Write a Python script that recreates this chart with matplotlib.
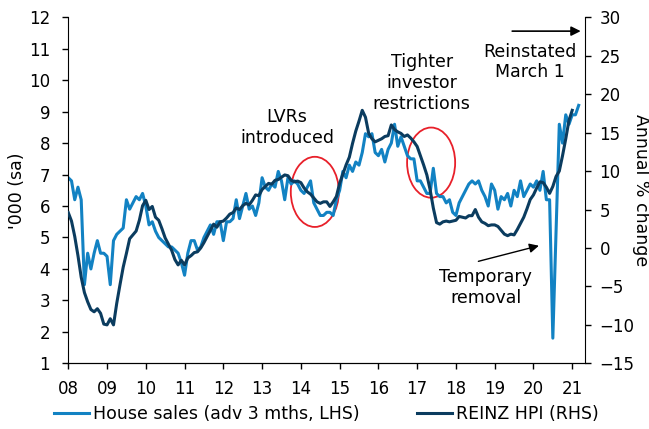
import numpy as np
import pandas as pd
import matplotlib
matplotlib.use("Agg")
import matplotlib.pyplot as plt
from matplotlib.patches import Ellipse

plt.rcParams['font.family'] = ['DejaVu Sans']
plt.rcParams['font.size'] = 12

# House sales, '000 sa, advanced 3 months (LHS), monthly from Jan 2008 to Mar 2021
sales = [
    6.9, 6.8, 6.2, 6.6, 6.2, 3.5, 4.5, 4.0, 4.5, 4.9, 4.5, 4.5,   # 2008
    4.4, 3.5, 4.9, 5.1, 5.2, 5.3, 6.2, 5.9, 6.1, 6.3, 6.2, 6.4,   # 2009
    6.0, 5.4, 5.5, 5.2, 5.0, 4.9, 4.8, 4.7, 4.7, 4.6, 4.5, 4.2,   # 2010
    3.8, 4.5, 4.9, 4.9, 4.6, 4.7, 5.0, 5.2, 5.4, 5.1, 5.5, 5.5,   # 2011
    4.9, 5.5, 5.5, 5.6, 6.2, 5.6, 6.0, 6.4, 5.9, 6.0, 5.7, 6.1,   # 2012
    6.9, 6.6, 6.5, 6.7, 6.6, 7.1, 6.8, 6.2, 6.9, 6.7, 6.8, 6.7,   # 2013
    6.5, 6.4, 6.6, 6.8, 6.1, 5.9, 5.7, 5.7, 5.8, 5.8, 5.7, 6.2,   # 2014
    6.5, 7.1, 6.9, 7.3, 7.1, 7.4, 7.3, 7.7, 8.3, 8.2, 8.3, 7.7,   # 2015
    7.6, 7.8, 7.4, 7.8, 8.0, 8.6, 7.9, 8.2, 7.9, 7.6, 7.5, 7.5,   # 2016
    6.8, 6.8, 6.6, 6.4, 6.4, 7.2, 6.4, 6.3, 6.3, 6.1, 6.2, 5.8,   # 2017
    5.7, 6.1, 6.3, 6.5, 6.7, 6.8, 6.7, 6.8, 6.5, 6.3, 6.0, 6.7,   # 2018
    6.5, 5.9, 6.3, 6.2, 6.4, 6.0, 6.5, 6.3, 6.8, 6.3, 6.5, 6.7,   # 2019
    6.6, 6.8, 6.5, 7.1, 6.2, 6.2, 1.8, 5.2, 8.6, 8.0, 8.9, 8.6,   # 2020
    8.9, 8.9, 9.2,                                                # 2021
]

# REINZ house price index, annual % change (RHS), monthly from Jan 2008 to Jan 2021
hpi = [
    4.6, 3.5, 1.5, -1.0, -3.8, -5.8, -7.0, -8.0, -8.3, -7.9, -8.5, -9.9,   # 2008
    -10.0, -9.2, -10.0, -7.2, -4.8, -2.5, -0.7, 1.2, 1.7, 2.2, 3.6, 5.5,  # 2009
    6.2, 5.0, 5.4, 4.0, 3.6, 2.5, 1.3, 0.5, -0.3, -1.5, -2.2, -1.6,       # 2010
    -2.2, -1.3, -1.0, -0.6, -0.5, 0.0, 0.7, 1.5, 2.3, 3.1, 2.7, 3.4,      # 2011
    3.5, 3.9, 4.4, 4.6, 5.2, 5.0, 5.5, 5.8, 5.6, 6.2, 6.9, 6.8,           # 2012
    7.6, 8.0, 8.4, 8.3, 8.8, 8.9, 9.2, 9.5, 9.4, 8.8, 8.6, 8.7,           # 2013
    8.5, 7.8, 7.3, 7.0, 6.5, 6.0, 5.8, 6.0, 6.0, 5.4, 6.0, 6.7,           # 2014
    8.4, 9.6, 10.8, 11.8, 13.6, 15.2, 16.5, 17.9, 17.0, 14.9, 14.2, 13.8, # 2015
    14.0, 14.2, 14.5, 14.6, 16.0, 15.4, 15.1, 14.9, 14.5, 14.7, 14.3, 13.8,  # 2016
    13.2, 12.0, 10.8, 9.5, 7.6, 5.2, 3.3, 3.1, 3.4, 3.5, 3.4, 3.5,        # 2017
    3.6, 4.1, 4.0, 3.9, 4.2, 4.2, 5.0, 4.0, 3.4, 3.2, 2.9, 3.0,           # 2018
    3.0, 2.8, 2.3, 1.8, 1.6, 1.8, 1.7, 2.4, 3.2, 4.0, 5.1, 6.3,           # 2019
    6.9, 7.8, 8.6, 8.5, 7.9, 7.1, 8.0, 9.3, 10.0, 12.0, 14.2, 16.6,       # 2020
    17.9,                                                                 # 2021
]

year_ticks = list(range(2008, 2022))
year_labels = [f"{y % 100:02d}" for y in year_ticks]

light = '#1282C3'
dark = '#0B3C5F'
red = '#E8202A'
txt_size = 12.5


def to_year(n):
    months = pd.date_range('2008-01-01', periods=n, freq='MS')
    return months.year + (months.month - 1) / 12


fig = plt.figure(figsize=(6.49, 4.29), dpi=100)
ax = fig.add_axes([0.1052, 0.1531, 0.9014 - 0.1052, 0.9597 - 0.1531])
ax2 = ax.twinx()

l1, = ax.plot(to_year(len(sales)), sales, color=light, lw=2.2,
              label='House sales (adv 3 mths, LHS)')
l2, = ax2.plot(to_year(len(hpi)), hpi, color=dark, lw=2.2,
               label='REINZ HPI (RHS)')

ax.set_xlim(2008, 2021.33)
ax.set_ylim(1, 12)
ax2.set_ylim(-15, 30)
ax.set_yticks(range(1, 13))
ax2.set_yticks(range(-15, 31, 5))
ax.set_xticks(year_ticks)
ax.set_xticklabels(year_labels)

for a in (ax, ax2):
    a.spines['top'].set_visible(False)
    a.tick_params(length=4.5, width=1, labelsize=12, colors='black')
ax.tick_params(axis='y', pad=8.5)
ax.tick_params(axis='x', pad=7.5)
ax2.tick_params(axis='y', pad=6)
ax.spines['right'].set_visible(False)
ax2.spines['left'].set_visible(False)

ax.set_ylabel("'000 (sa)", fontsize=txt_size)
ax.yaxis.set_label_coords(-0.082, 0.5)
ax2.set_ylabel('Annual % change', fontsize=txt_size, rotation=270, va='bottom')
ax2.yaxis.set_label_coords(1.09, 0.5)

# annotations (LHS data coordinates)
ax2.set_zorder(ax.get_zorder() + 1)
ax2.patch.set_visible(False)
ax.add_patch(Ellipse((2014.36, 6.45), 1.24, 2.23, fill=False, ec=red, lw=1.3))
ax.add_patch(Ellipse((2017.36, 7.38), 1.24, 2.23, fill=False, ec=red, lw=1.3))
ax.text(2013.64, 8.5, 'LVRs\nintroduced', ha='center', va='center',
        linespacing=1.2, fontsize=txt_size)
ax.text(2017.12, 9.92, 'Tighter\ninvestor\nrestrictions', ha='center', va='center',
        linespacing=1.2, fontsize=txt_size)
ax.text(2019.92, 10.58, 'Reinstated\nMarch 1', ha='center', va='center',
        linespacing=1.2, fontsize=txt_size)
ax.text(2018.77, 3.4, 'Temporary\nremoval', ha='center', va='center',
        linespacing=1.2, fontsize=txt_size)
ax.annotate('', xy=(2021.29, 11.56), xytext=(2019.38, 11.56),
            arrowprops=dict(arrowstyle='-|>', color='black', lw=1.2, mutation_scale=14),
            annotation_clip=False)
ax.annotate('', xy=(2020.21, 4.76), xytext=(2018.51, 4.22),
            arrowprops=dict(arrowstyle='-|>', color='black', lw=1.0, mutation_scale=14))

fig.legend(handles=[l1, l2], loc='center', bbox_to_anchor=(0.503, 0.035), ncol=2,
           frameon=False, handlelength=2.0, handletextpad=0.2, columnspacing=3.35,
           fontsize=txt_size)

fig.savefig('out.png', dpi=100)
